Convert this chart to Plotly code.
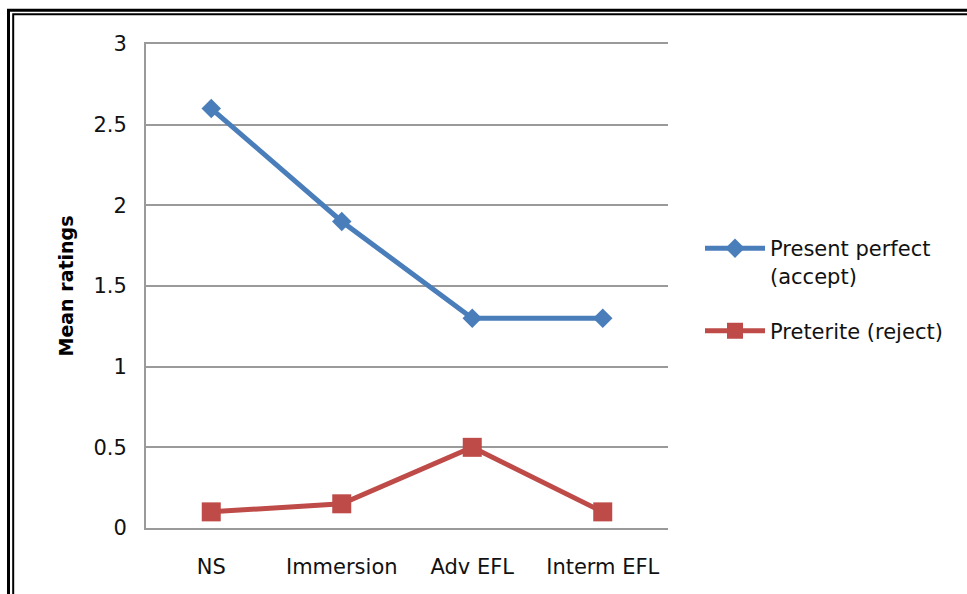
import plotly.graph_objects as go

# Learner groups and their mean ratings
groups = ["NS", "Immersion", "Adv EFL", "Interm EFL"]
present_perfect = [2.6, 1.9, 1.3, 1.3]
preterite = [0.1, 0.15, 0.5, 0.1]
y_ticks = [0, 0.5, 1, 1.5, 2, 2.5, 3]
y_tick_text = ["0", "0.5", "1", "1.5", "2", "2.5", "3"]

W, H = 967, 594
L, R, T, B = 146, 668, 44, 528  # plot area edges in pixels
FONT = "DejaVu Sans"
GRID = "#9a9a9a"
TXT = 21


def px_x(p):
    return (p - L) / (R - L)


def px_y(p):
    return (B - p) / (B - T)


fig = go.Figure()
fig.add_trace(go.Scatter(
    x=groups, y=present_perfect, name="Present perfect<br>(accept)",
    mode="lines+markers", legendgroup="a",
    line=dict(color="#4a7ebb", width=5),
    marker=dict(symbol="diamond", size=15, color="#4a7ebb"),
))
fig.add_trace(go.Scatter(
    x=groups, y=preterite, name="Preterite (reject)",
    mode="lines+markers", legendgroup="b",
    line=dict(color="#be4b48", width=5),
    marker=dict(symbol="square", size=19, color="#be4b48"),
))

# double frame around the chart
frame = [
    dict(x0=8.5, y0=10.3, w=3),
    dict(x0=13.2, y0=14.2, w=2),
]
shapes = []
for f in frame:
    shapes.append(dict(
        type="rect", xref="paper", yref="paper", layer="above",
        x0=px_x(f["x0"]), x1=px_x(1100), y0=px_y(f["y0"]), y1=px_y(800),
        line=dict(color="black", width=f["w"]), fillcolor="rgba(0,0,0,0)",
    ))

fig.update_layout(
    width=W, height=H,
    margin=dict(l=L, r=W - R, t=T, b=H - B),
    paper_bgcolor="white", plot_bgcolor="white",
    font=dict(family=FONT, size=TXT, color="#111111"),
    showlegend=True,
    legend=dict(
        x=px_x(700), y=px_y(228), xanchor="left", yanchor="top",
        itemwidth=60, valign="top", traceorder="grouped", tracegroupgap=25,
        font=dict(family=FONT, size=TXT, color="#111111"),
        bgcolor="rgba(0,0,0,0)",
    ),
    shapes=shapes,
    xaxis=dict(
        type="category", range=[-0.5, 3.5], showgrid=False, zeroline=False,
        showline=True, mirror=True, linecolor=GRID, linewidth=2,
        ticks="outside", ticklen=19, tickcolor="rgba(0,0,0,0)",
        tickfont=dict(family=FONT, size=TXT, color="#111111"),
        fixedrange=True,
    ),
    yaxis=dict(
        range=[0, 3], tickvals=y_ticks, ticktext=y_tick_text,
        showgrid=True, gridcolor=GRID, gridwidth=2,
        zeroline=False, showline=True, linecolor=GRID, linewidth=2,
        ticks="outside", ticklen=13, tickcolor="rgba(0,0,0,0)",
        tickfont=dict(family=FONT, size=TXT, color="#111111"),
        title=dict(text="<b>Mean ratings</b>", standoff=15,
                   font=dict(family=FONT, size=19, color="black")),
        fixedrange=True,
    ),
)

fig.write_html("out.html")
